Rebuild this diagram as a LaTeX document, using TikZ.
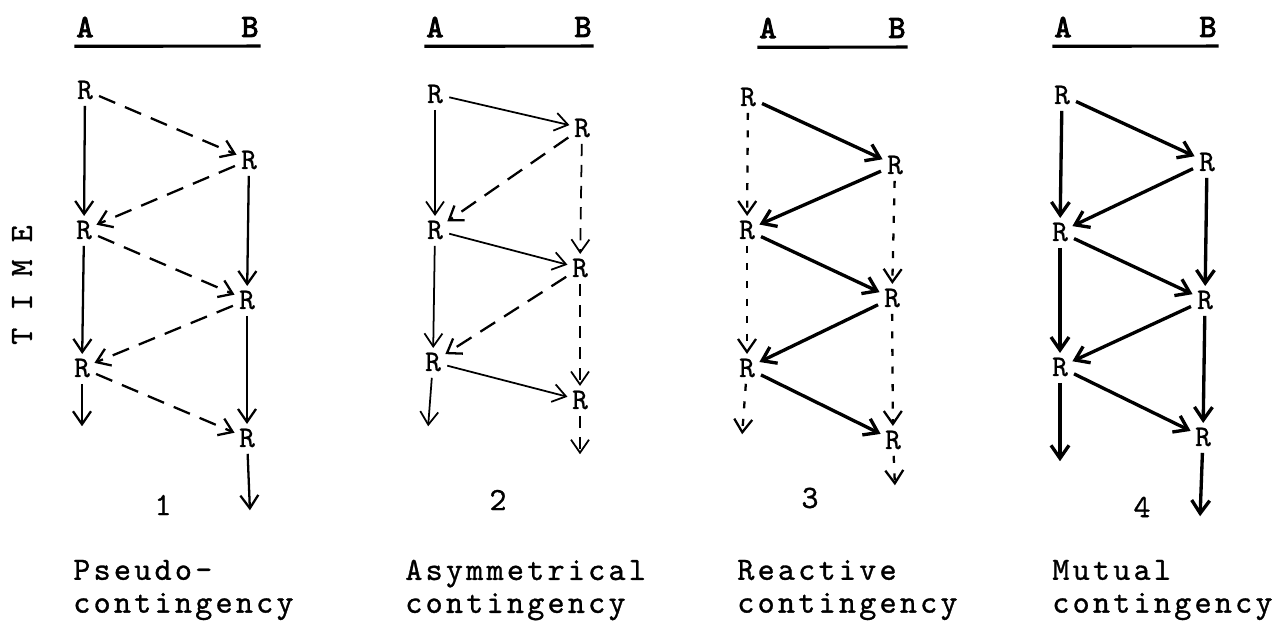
\documentclass[tikz,border=0pt]{standalone}
\usepackage{fontspec}
\setmonofont{lmmono10-regular.otf}[FakeBold=0.8,
  BoldFont=lmmono10-regular.otf, BoldFeatures={FakeBold=3}]
\newfontfamily\capfont{lmmono10-regular.otf}[FakeBold=1, LetterSpace=10]
\usetikzlibrary{arrows.meta, positioning}

\begin{document}
\begin{tikzpicture}[x=0.02cm, y=-0.02cm,
  every node/.style={font=\ttfamily\fontsize{18.5}{18.7}\selectfont},
  resp/.style={inner sep=1.5pt, font=\ttfamily\fontsize{17}{17}\selectfont},
  head/.style={inner sep=1pt, font=\ttfamily\bfseries\fontsize{18.5}{18.5}\selectfont},
  caption/.style={anchor=west, align=left, inner sep=0pt,
                  font=\capfont\fontsize{18.5}{18.7}\selectfont},
  ar/.style={-{Straight Barb[length=2.6mm, width=3.6mm]}, line width=1.3pt,
             shorten >=1pt, shorten <=2pt},
  thinar/.style ={ar, line width=1pt},
  thickar/.style={ar, line width=1.9pt},
  dashar/.style ={ar, dash pattern=on 10pt off 6pt},
  dotar/.style  ={ar, line width=1.3pt, dash pattern=on 4pt off 6pt},
  uline/.style={line width=1.8pt}
]
\useasboundingbox (0,0) rectangle (1284,622);

\node[rotate=90] (time) at (22,285) {T I M E};

% 1 pseudo-contingency
\node[head] (p1A) at (85,27) {A};
\node[head] (p1B) at (250,27) {B};
\draw[uline] ([yshift=-4pt]p1A.south west) -- ([yshift=-4pt]p1B.south east);
\node[resp] (p1a1) at (85,90)  {R};
\node[resp] (p1b1) at (249,160) {R};
\node[resp] (p1a2) at (84,230) {R};
\node[resp] (p1b2) at (247,300) {R};
\node[resp] (p1a3) at (82,368) {R};
\node[resp] (p1b3) at (247,438) {R};
\coordinate (p1ae) at (82,428);
\coordinate (p1be) at (250,512);
\foreach \i/\j in {p1a1/p1a2,p1a2/p1a3,p1a3/p1ae,p1b1/p1b2,p1b2/p1b3,p1b3/p1be}
  \draw[ar] (\i) -- (\j);
\foreach \i/\j in {p1a1/p1b1,p1b1/p1a2,p1a2/p1b2,p1b2/p1a3,p1a3/p1b3}
  \draw[dashar] (\i) -- (\j);
\node (n1) at (163,505) {1};
\node[caption] (c1) at (73,590) {Pseudo-\\contingency};

% 2 asymmetrical contingency
\node[head] (p2A) at (435,27) {A};
\node[head] (p2B) at (583,27) {B};
\draw[uline] ([yshift=-4pt]p2A.south west) -- ([yshift=-4pt]p2B.south east);
\node[resp] (p2a1) at (435,94)  {R};
\node[resp] (p2b1) at (582,128) {R};
\node[resp] (p2a2) at (435,230) {R};
\node[resp] (p2b2) at (580,268) {R};
\node[resp] (p2a3) at (433,362) {R};
\node[resp] (p2b3) at (580,400) {R};
\coordinate (p2ae) at (428,428);
\coordinate (p2be) at (580,456);
\foreach \i/\j in {p2a1/p2a2,p2a2/p2a3,p2a3/p2ae,p2a1/p2b1,p2a2/p2b2,p2a3/p2b3}
  \draw[thinar] (\i) -- (\j);
\foreach \i/\j in {p2b1/p2a2,p2b2/p2a3}
  \draw[dashar] (\i) -- (\j);
\foreach \i/\j in {p2b1/p2b2,p2b2/p2b3,p2b3/p2be}
  \draw[dotar, line width=1pt, dash pattern=on 7pt off 5pt] (\i) -- (\j);
\node (n2) at (498,500) {2};
\node[caption] (c2) at (405,590) {Asymmetrical\\contingency};

% 3 reactive contingency
\node[head] (p3A) at (768,28) {A};
\node[head] (p3B) at (897,28) {B};
\draw[uline] ([yshift=-4pt]p3A.south west) -- ([yshift=-4pt]p3B.south east);
\node[resp] (p3a1) at (748,97)  {R};
\node[resp] (p3b1) at (895,165) {R};
\node[resp] (p3a2) at (747,230) {R};
\node[resp] (p3b2) at (892,298) {R};
\node[resp] (p3a3) at (747,368) {R};
\node[resp] (p3b3) at (893,440) {R};
\coordinate (p3ae) at (742,436);
\coordinate (p3be) at (895,487);
\foreach \i/\j in {p3a1/p3b1,p3b1/p3a2,p3a2/p3b2,p3b2/p3a3,p3a3/p3b3}
  \draw[thickar] (\i) -- (\j);
\foreach \i/\j in {p3a1/p3a2,p3a2/p3a3,p3a3/p3ae,p3b1/p3b2,p3b2/p3b3,p3b3/p3be}
  \draw[dotar] (\i) -- (\j);
\node (n3) at (810,498) {3};
\node[caption] (c3) at (737,590) {Reactive\\contingency};

% 4 mutual contingency
\node[head] (p4A) at (1063,27) {A};
\node[head] (p4B) at (1208,27) {B};
\draw[uline] ([yshift=-4pt]p4A.south west) -- ([yshift=-4pt]p4B.south east);
\node[resp] (p4a1) at (1062,95)  {R};
\node[resp] (p4b1) at (1207,162) {R};
\node[resp] (p4a2) at (1060,232) {R};
\node[resp] (p4b2) at (1205,300) {R};
\node[resp] (p4a3) at (1060,367) {R};
\node[resp] (p4b3) at (1203,437) {R};
\coordinate (p4ae) at (1060,463);
\coordinate (p4be) at (1200,518);
\foreach \i/\j in {p4a1/p4a2,p4a2/p4a3,p4a3/p4ae,p4b1/p4b2,p4b2/p4b3,p4b3/p4be,
                   p4a1/p4b1,p4b1/p4a2,p4a2/p4b2,p4b2/p4a3,p4a3/p4b3}
  \draw[thickar] (\i) -- (\j);
\node (n4) at (1142,507) {4};
\node[caption] (c4) at (1052,590) {Mutual\\contingency};
\end{tikzpicture}
\end{document}
